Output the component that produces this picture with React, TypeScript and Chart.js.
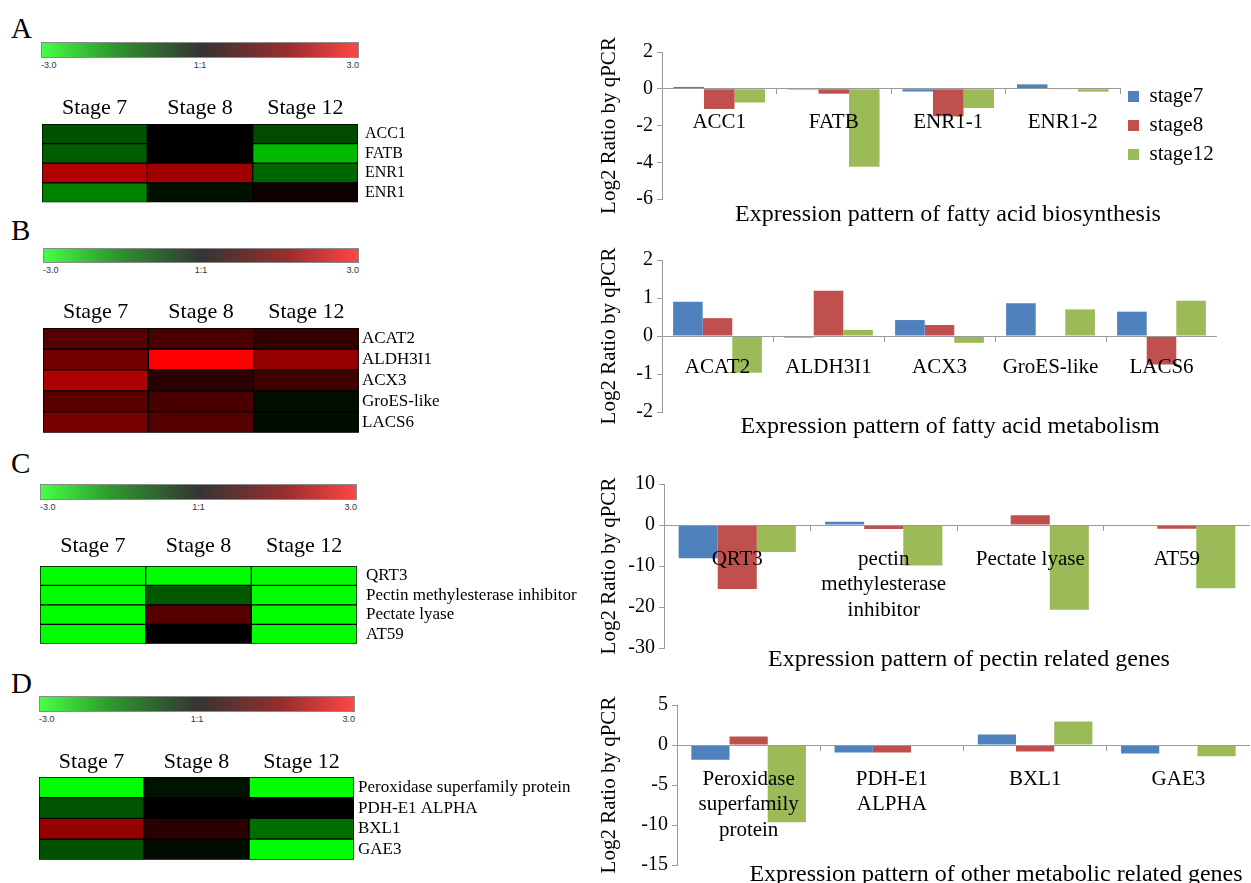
import React, { useEffect, useRef } from "react";
import { Chart, registerables } from "chart.js";

Chart.register(...registerables);

const SERIF = "'Liberation Serif', 'Times New Roman', Times, serif";
const SANS = "'Liberation Sans', Arial, Helvetica, sans-serif";

// ---------- shared ----------
const stages = ["Stage 7", "Stage 8", "Stage 12"];
const seriesNames = ["stage7", "stage8", "stage12"];
const seriesColors = ["#4F81BD", "#C0504D", "#9BBB59"];
const colorbarLabels = ["-3.0", "1:1", "3.0"];

// ---------- heatmaps (log2 ratio, -3 .. 3) ----------
const heatGenesA = ["ACC1", "FATB", "ENR1", "ENR1"];
const heatValuesA = [
  [-0.95, 0, -0.88],
  [-1.1, 0, -2.2],
  [2.1, 1.9, -1.2],
  [-1.55, -0.2, 0.15],
];

const heatGenesB = ["ACAT2", "ALDH3I1", "ACX3", "GroES-like", "LACS6"];
const heatValuesB = [
  [1.0, 0.88, 0.6],
  [1.35, 3.0, 1.75],
  [2.05, 0.53, 0.76],
  [1.06, 0.88, -0.18],
  [1.41, 1.0, -0.14],
];

const heatGenesC = ["QRT3", "Pectin methylesterase inhibitor", "Pectate lyase", "AT59"];
const heatValuesC = [
  [-3, -3, -3],
  [-3, -1.05, -3],
  [-3, 1.0, -3],
  [-3, 0, -3],
];

const heatGenesD = ["Peroxidase superfamily protein", "PDH-E1 ALPHA", "BXL1", "GAE3"];
const heatValuesD = [
  [-3, -0.22, -3],
  [-1.0, 0, 0],
  [1.75, 0.5, -1.3],
  [-0.95, -0.15, -3],
];

// ---------- qPCR bar charts ----------
const barCatsA = ["ACC1", "FATB", "ENR1-1", "ENR1-2"];
const barA7 = [0.1, -0.05, -0.15, 0.24];
const barA8 = [-1.1, -0.27, -1.5, -0.03];
const barA12 = [-0.75, -4.25, -1.05, -0.16];

const barCatsB = ["ACAT2", "ALDH3I1", "ACX3", "GroES-like", "LACS6"];
const barB7 = [0.9, -0.04, 0.42, 0.86, 0.64];
const barB8 = [0.47, 1.19, 0.29, -0.01, -0.75];
const barB12 = [-0.97, 0.16, -0.18, 0.7, 0.93];

const barCatsC = ["QRT3", ["pectin", "methylesterase", "inhibitor"], "Pectate lyase", "AT59"];
const barC7 = [-8.1, 0.8, 0, 0];
const barC8 = [-15.6, -1.0, 2.4, -0.9];
const barC12 = [-6.6, -9.9, -20.7, -15.4];

const barCatsD = [["Peroxidase", "superfamily", "protein"], ["PDH-E1", "ALPHA"], "BXL1", "GAE3"];
const barD7 = [-1.85, -0.95, 1.3, -1.05];
const barD8 = [1.05, -0.95, -0.8, -0.05];
const barD12 = [-9.65, 0, 2.95, -1.4];

const yRangeA = [-6, 2, 2];
const yRangeB = [-2, 2, 1];
const yRangeC = [-30, 10, 10];
const yRangeD = [-15, 5, 5];

const titleA = "Expression pattern of fatty acid biosynthesis";
const titleB = "Expression pattern of fatty acid metabolism";
const titleC = "Expression pattern of pectin related genes";
const titleD = "Expression pattern of other metabolic related genes";
const yTitle = "Log2 Ratio by qPCR";

function heatColor(v: number): string {
  const t = Math.min(1, Math.abs(v) / 3);
  const c = Math.round(255 * t);
  return v >= 0 ? `rgb(${c},0,0)` : `rgb(0,${c},0)`;
}

type HeatSpec = {
  genes: string[];
  values: number[][];
  gridLeft: number;
  gridRight: number;
  gridTop: number;
  gridBottom: number;
  labelSize: number;
  labelPad: number;
  headerPad: number;
};

const HEAT_RIGHT = 590;
const HEAD_H = 36;

function HeatMap({ spec }: { spec: HeatSpec }) {
  const ref = useRef<HTMLCanvasElement>(null);
  const canvasLeft = spec.gridLeft - 4;
  const canvasTop = spec.gridTop - HEAD_H;
  const canvasBottom = spec.gridBottom + 12;
  const w = HEAT_RIGHT - canvasLeft;
  const h = canvasBottom - canvasTop;
  useEffect(() => {
    const datasets = stages.map((s, si) => ({
      label: s,
      data: spec.genes.map(() => 1),
      backgroundColor: spec.values.map((row) => heatColor(row[si])),
      borderColor: "#000",
      borderWidth: 1,
      borderSkipped: false,
      barPercentage: 1,
      categoryPercentage: 1,
    }));
    const chart = new Chart(ref.current as HTMLCanvasElement, {
      type: "bar",
      data: { labels: spec.genes, datasets: datasets as any },
      options: {
        indexAxis: "y",
        animation: false,
        responsive: false,
        layout: { padding: { left: 4, top: 0, right: 0, bottom: 12 } },
        plugins: { legend: { display: false }, tooltip: { enabled: false } },
        scales: {
          x: {
            type: "linear",
            min: 0,
            max: 3,
            stacked: true,
            position: "top",
            grid: { display: false, drawTicks: false, tickLength: 0 },
            border: { display: false },
            afterBuildTicks: (sc: any) => {
              sc.ticks = stages.map((_, i) => ({ value: i + 0.5 }));
            },
            afterFit: (sc: any) => {
              sc.height = HEAD_H;
            },
            ticks: {
              callback: (_v: any, i: number) => stages[i],
              font: { family: SERIF, size: 22 },
              color: "#000",
              padding: spec.headerPad,
              maxRotation: 0,
              autoSkip: false,
            },
          },
          y: {
            type: "category",
            stacked: true,
            position: "right",
            grid: { display: false, drawTicks: false, tickLength: 0 },
            border: { display: false },
            afterFit: (sc: any) => {
              sc.width = HEAT_RIGHT - spec.gridRight;
            },
            ticks: {
              font: { family: SERIF, size: spec.labelSize },
              color: "#000",
              padding: spec.labelPad,
              autoSkip: false,
            },
          },
        },
      } as any,
    });
    return () => chart.destroy();
  }, []);
  return (
    <canvas
      ref={ref}
      width={w}
      height={h}
      style={{ position: "absolute", left: canvasLeft, top: canvasTop, width: w, height: h }}
    />
  );
}

type BarSpec = {
  cats: (string | string[])[];
  series: number[][];
  range: number[];
  areaLeft: number;
  areaRight: number;
  areaTop: number;
  areaBottom: number;
  labelPad: number;
  legend: boolean;
};

const BAR_LEFT = 590;
const LEGEND_W = 95;

function BarPanel({ spec }: { spec: BarSpec }) {
  const ref = useRef<HTMLCanvasElement>(null);
  const top = spec.areaTop - 20;
  const bottom = Math.min(883, spec.areaBottom + 18);
  const right = spec.areaRight + (spec.legend ? LEGEND_W : 0);
  const w = right - BAR_LEFT;
  const h = bottom - top;
  useEffect(() => {
    const datasets = spec.series.map((vals, i) => ({
      label: seriesNames[i],
      data: vals,
      backgroundColor: seriesColors[i],
      borderWidth: 0,
      barPercentage: 1,
      categoryPercentage: 0.8,
    }));
    const chart = new Chart(ref.current as HTMLCanvasElement, {
      type: "bar",
      data: { labels: spec.cats as any, datasets },
      options: {
        animation: false,
        responsive: false,
        layout: { padding: { left: 0, right: 0, top: 20, bottom: bottom - spec.areaBottom } },
        plugins: {
          tooltip: { enabled: false },
          legend: {
            display: spec.legend,
            position: "right",
            align: "center",
            maxWidth: LEGEND_W,
            labels: {
              boxWidth: 11,
              boxHeight: 11,
              padding: 8,
              color: "#000",
              font: { family: SERIF, size: 21 },
            },
          },
        },
        scales: {
          x: {
            type: "category",
            position: { y: 0 },
            offset: true,
            grid: {
              display: true,
              drawOnChartArea: false,
              drawTicks: true,
              tickLength: 5,
              color: "#9a9a9a",
              offset: true,
              z: 1,
            },
            border: { display: true, color: "#9a9a9a", z: 1 },
            ticks: {
              font: { family: SERIF, size: 21, lineHeight: 1.2 },
              color: "#000",
              padding: spec.labelPad,
              maxRotation: 0,
              minRotation: 0,
              autoSkip: false,
              z: 2,
            },
          },
          y: {
            type: "linear",
            min: spec.range[0],
            max: spec.range[1],
            position: "left",
            afterFit: (sc: any) => {
              sc.width = spec.areaLeft - BAR_LEFT;
            },
            grid: {
              display: true,
              drawOnChartArea: false,
              drawTicks: true,
              tickLength: 5,
              color: "#9a9a9a",
            },
            border: { display: true, color: "#9a9a9a" },
            ticks: {
              stepSize: spec.range[2],
              font: { family: SERIF, size: 20 },
              color: "#000",
              padding: 4,
            },
            title: {
              display: true,
              text: yTitle,
              color: "#000",
              font: { family: SERIF, size: 21 },
              padding: { top: 7, bottom: 0 },
            },
          },
        },
      } as any,
    });
    return () => chart.destroy();
  }, []);
  return (
    <canvas
      ref={ref}
      width={w}
      height={h}
      style={{ position: "absolute", left: BAR_LEFT, top, width: w, height: h }}
    />
  );
}

function ColorBar({ left, top, width, height }: { left: number; top: number; width: number; height: number }) {
  const lab = { position: "absolute" as const, top: top + height + 2, fontFamily: SANS, fontSize: 9, color: "#333", lineHeight: "10px" };
  return (
    <>
      <div
        style={{
          position: "absolute",
          left,
          top,
          width,
          height,
          boxSizing: "border-box",
          border: "1px solid #8a8a8a",
          background:
            "linear-gradient(to right, #45ff45 0%, #2e9a2e 22%, #343434 50%, #9a2e2e 78%, #ff4545 100%)",
        }}
      />
      <div style={{ ...lab, left }}>{colorbarLabels[0]}</div>
      <div style={{ ...lab, left: left + width / 2, transform: "translateX(-50%)" }}>{colorbarLabels[1]}</div>
      <div style={{ ...lab, left: left + width - 40, width: 40, textAlign: "right" }}>{colorbarLabels[2]}</div>
    </>
  );
}

function Letter({ text, top }: { text: string; top: number }) {
  return (
    <div style={{ position: "absolute", left: 11, top, fontFamily: SERIF, fontSize: 29, lineHeight: "30px", color: "#000" }}>
      {text}
    </div>
  );
}

function Title({ text, cx, cy }: { text: string; cx: number; cy: number }) {
  return (
    <div
      style={{
        position: "absolute",
        left: cx,
        top: cy - 12,
        transform: "translateX(-50%)",
        whiteSpace: "nowrap",
        fontFamily: SERIF,
        fontSize: 24,
        lineHeight: "24px",
        color: "#000",
      }}
    >
      {text}
    </div>
  );
}

const heatSpecs: HeatSpec[] = [
  { genes: heatGenesA, values: heatValuesA, gridLeft: 42, gridRight: 358, gridTop: 124, gridBottom: 207, labelSize: 16, labelPad: 7, headerPad: 3 },
  { genes: heatGenesB, values: heatValuesB, gridLeft: 43, gridRight: 359, gridTop: 328, gridBottom: 434, labelSize: 17, labelPad: 3, headerPad: 3 },
  { genes: heatGenesC, values: heatValuesC, gridLeft: 40, gridRight: 357, gridTop: 566, gridBottom: 651, labelSize: 17, labelPad: 9, headerPad: 7 },
  { genes: heatGenesD, values: heatValuesD, gridLeft: 39, gridRight: 354, gridTop: 777, gridBottom: 862, labelSize: 17, labelPad: 4, headerPad: 2 },
];

const barSpecs: BarSpec[] = [
  { cats: barCatsA, series: [barA7, barA8, barA12], range: yRangeA, areaLeft: 662, areaRight: 1120, areaTop: 52, areaBottom: 199, labelPad: 16, legend: true },
  { cats: barCatsB, series: [barB7, barB8, barB12], range: yRangeB, areaLeft: 662, areaRight: 1217, areaTop: 260, areaBottom: 412, labelPad: 14, legend: false },
  { cats: barCatsC, series: [barC7, barC8, barC12], range: yRangeC, areaLeft: 664, areaRight: 1250, areaTop: 484, areaBottom: 648, labelPad: 17, legend: false },
  { cats: barCatsD, series: [barD7, barD8, barD12], range: yRangeD, areaLeft: 677, areaRight: 1250, areaTop: 705, areaBottom: 865, labelPad: 17, legend: false },
];

export default function App() {
  useEffect(() => {
    document.body.style.overflow = "hidden";
  }, []);
  return (
    <div
      style={{
        position: "absolute",
        left: 0,
        top: 0,
        width: 1251,
        height: 883,
        overflow: "hidden",
        background: "#fff",
      }}
    >
      <Letter text="A" top={13} />
      <Letter text="B" top={215} />
      <Letter text="C" top={448} />
      <Letter text="D" top={668} />

      <ColorBar left={41} top={42} width={318} height={16} />
      <ColorBar left={43} top={248} width={316} height={15} />
      <ColorBar left={40} top={484} width={317} height={16} />
      <ColorBar left={39} top={696} width={316} height={16} />

      {heatSpecs.map((s, i) => (
        <HeatMap key={"h" + i} spec={s} />
      ))}
      {barSpecs.map((s, i) => (
        <BarPanel key={"b" + i} spec={s} />
      ))}

      <Title text={titleA} cx={948} cy={213} />
      <Title text={titleB} cx={950} cy={425} />
      <Title text={titleC} cx={969} cy={658} />
      <Title text={titleD} cx={996} cy={873} />
    </div>
  );
}
